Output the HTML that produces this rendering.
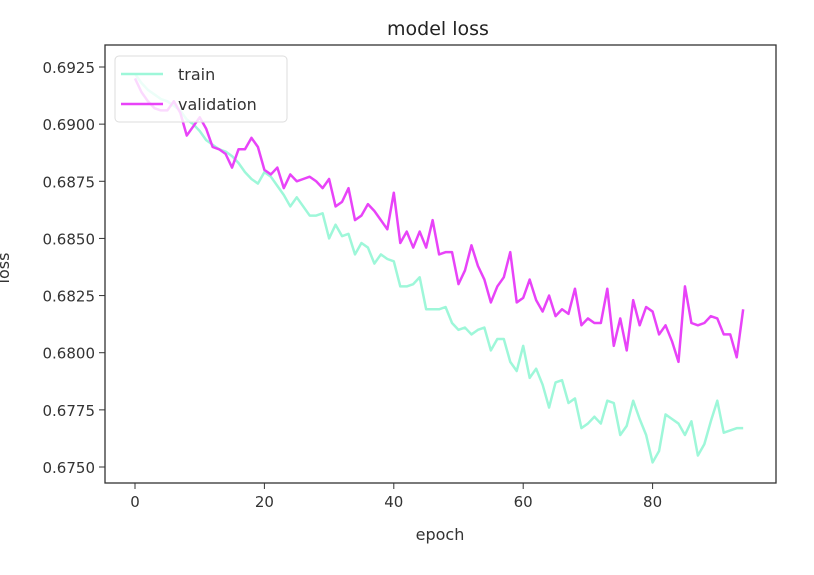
<!DOCTYPE html>
<html><head><meta charset="utf-8"><style>
body{margin:0;background:#fff;width:814px;height:570px;overflow:hidden}
svg{font-family:"DejaVu Sans","Liberation Sans",sans-serif}
</style></head><body>
<svg id="chart" width="814" height="570"></svg>
<script>
const epochs = Array.from({length:95},(_,i)=>i);
const trainLoss = [.6922,.6918,.6915,.6913,.6911,.6910,.6908,.6906,.6902,.6900,
.6897,.6893,.6891,.6889,.6888,.6886,.6883,.6879,.6876,.6874,
.6879,.6877,.6873,.6869,.6864,.6868,.6864,.6860,.6860,.6861,
.6850,.6856,.6851,.6852,.6843,.6848,.6846,.6839,.6843,.6841,
.6840,.6829,.6829,.6830,.6833,.6819,.6819,.6819,.6820,.6813,
.6810,.6811,.6808,.6810,.6811,.6801,.6806,.6806,.6796,.6792,
.6803,.6789,.6793,.6786,.6776,.6787,.6788,.6778,.6780,.6767,
.6769,.6772,.6769,.6779,.6778,.6764,.6768,.6779,.6771,.6764,
.6752,.6757,.6773,.6771,.6769,.6764,.6770,.6755,.6760,.6770,
.6779,.6765,.6766,.6767,.6767];
const valLoss = [.6920,.6914,.6910,.6907,.6906,.6906,.6910,.6905,.6895,.6899,
.6903,.6898,.6890,.6889,.6887,.6881,.6889,.6889,.6894,.6890,
.6880,.6878,.6881,.6872,.6878,.6875,.6876,.6877,.6875,.6872,
.6876,.6864,.6866,.6872,.6858,.6860,.6865,.6862,.6858,.6854,
.6870,.6848,.6853,.6846,.6853,.6846,.6858,.6843,.6844,.6844,
.6830,.6836,.6847,.6838,.6832,.6822,.6829,.6833,.6844,.6822,
.6824,.6832,.6823,.6818,.6825,.6816,.6819,.6817,.6828,.6812,
.6815,.6813,.6813,.6828,.6803,.6815,.6801,.6823,.6812,.6820,
.6818,.6808,.6812,.6805,.6796,.6829,.6813,.6812,.6813,.6816,
.6815,.6808,.6808,.6798,.6819];
const xTicks = [0,20,40,60,80];
const yTicks = [0.6750,0.6775,0.6800,0.6825,0.6850,0.6875,0.6900,0.6925];

const L=105,T=45,R=776,B=483;
const sx=v=>135+(v-0)*6.47;
const sy=v=>467-(v-0.6750)/0.0175*400;
const svg=document.getElementById('chart');
const NS='http://www.w3.org/2000/svg';
function mk(tag,attrs,parent){const e=document.createElementNS(NS,tag);for(const k in attrs)e.setAttribute(k,attrs[k]);(parent||svg).appendChild(e);return e;}

const title=mk('text',{x:438,y:35,'text-anchor':'middle','font-size':19,fill:'#222'});
title.textContent='model loss';



function line(data,color,name){
  const p=mk('polyline',{points:data.map((v,i)=>sx(epochs[i])+','+sy(v)).join(' '),fill:'none',stroke:color,'stroke-width':2.5,'stroke-linejoin':'round'});
  
  
}
line(trainLoss,'#9ef7d9','train-line');
line(valLoss,'#e843f8','validation-line');

const frame=mk('rect',{x:L,y:T,width:R-L,height:B-T,fill:'none',stroke:'#333','stroke-width':1.3});



xTicks.forEach(t=>{
  const g=mk('g',{});
  
  
  mk('line',{x1:sx(t),x2:sx(t),y1:B,y2:B+6,stroke:'#333'},g);
  const tx=mk('text',{x:sx(t),y:B+24,'text-anchor':'middle','font-size':15,fill:'#333'},g);
  tx.textContent=t;
});
yTicks.forEach(t=>{
  const g=mk('g',{});
  
  
  mk('line',{x1:L-6,x2:L,y1:sy(t),y2:sy(t),stroke:'#333'},g);
  const tx=mk('text',{x:L-10,y:sy(t)+6,'text-anchor':'end','font-size':15,fill:'#333'},g);
  tx.textContent=t.toFixed(4);
});
const xl=mk('text',{x:440,y:540,'text-anchor':'middle','font-size':16,fill:'#333'});
xl.textContent='epoch';


const yl=mk('text',{x:0,y:0,'text-anchor':'middle','font-size':16,fill:'#333',transform:'translate(9,268) rotate(-90)'});
yl.textContent='loss';



const lg=mk('g',{});


mk('rect',{x:115,y:56,width:172,height:66,rx:4,fill:'rgba(255,255,255,0.8)',stroke:'#ddd'},lg);
[['train','#9ef7d9',74],['validation','#e843f8',104]].forEach(([n,c,y])=>{
  const e=mk('g',{},lg);
  
  
  mk('line',{x1:121,x2:163,y1:y,y2:y,stroke:c,'stroke-width':2.5},e);
  const t=mk('text',{x:178,y:y+6,'font-size':16,fill:'#333'},e);
  t.textContent=n;
});
</script>
</body></html>
